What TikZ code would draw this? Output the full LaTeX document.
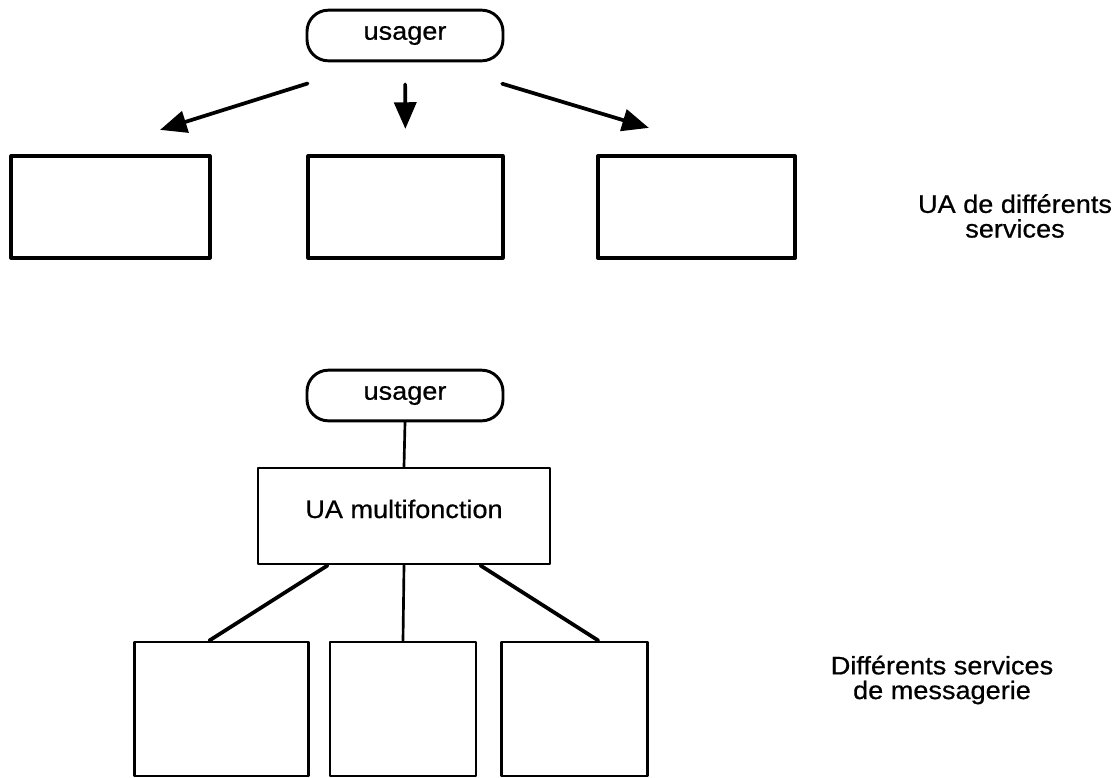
\documentclass[tikz,border=0pt]{standalone}
\usepackage{fontspec}
\setmainfont{Liberation Sans}[FakeStretch=1.07,FakeBold=0.6]
\usetikzlibrary{arrows.meta}
\usetikzlibrary{calc}

\begin{document}
\begin{tikzpicture}[line cap=round,line join=round,>={Triangle[length=20pt,width=16.5pt]},x=0.75pt,y=-0.75pt,
  every node/.style={font=\fontsize{19pt}{18.5pt}\selectfont},
  usr/.style={draw,line width=2.2pt,rounded corners=16pt,minimum width=147pt,minimum height=38pt,inner sep=0pt},
  ua/.style={draw,line width=2.6pt,minimum height=76.5pt,inner sep=0pt},
  srv/.style={draw,line width=2.2pt,minimum height=100.5pt,inner sep=0pt},
  fl/.style={->,line width=2.8pt},
  lien/.style={line width=2.8pt}]
\useasboundingbox (0,0) rectangle (1118,778);

% en haut : un UA par service
\node [usr] (u1) at (405,35.5) {usager};
\node [ua,minimum width=149pt] (b1) at (110.5,207) {};
\node [ua,minimum width=146pt] (b2) at (405.5,207) {};
\node [ua,minimum width=148pt] (b3) at (696.5,207) {};
\draw [fl,shorten <=53pt,shorten >=61pt] ($(u1.south)+(-30,0)$) -- ($(b1.north west)+(73,0)$);
\draw [fl,shorten <=16.5pt,shorten >=19pt] (u1.south) -- (b2.north);
\draw [fl,shorten <=55.7pt,shorten >=68.7pt] ($(u1.south)+(26,0)$) -- ($(b3.north west)+(140.5,0)$);
\node [align=center] (t1) at (1015,216) {UA de différents\\services};

% en bas : UA multifonction
\node [usr] (u2) at (405,395.5) {usager};
\node [draw,line width=2.2pt,minimum width=219pt,minimum height=72pt,text height=13.5pt,text depth=10.5pt,inner sep=0pt] (mf) at (404,516) {UA multifonction};
\node [srv,minimum width=130pt] (s1) at (221.5,709) {};
\node [srv,minimum width=109.5pt] (s2) at (403,709) {};
\node [srv,minimum width=110pt] (s3) at (574.5,709) {};
\draw [line width=2pt] (u2.south) -- (mf.north);
\draw [lien] ($(mf.south west)+(71,0)$) -- ($(s1.north west)+(76,0)$);
\draw [line width=2pt] (mf.south) -- (s2.north);
\draw [lien] ($(mf.south east)+(-71,0)$) -- ($(s3.north east)+(-51,0)$);
\node [align=center] (t2) at (942,680) {Différents services\\de messagerie};
\end{tikzpicture}
\end{document}
